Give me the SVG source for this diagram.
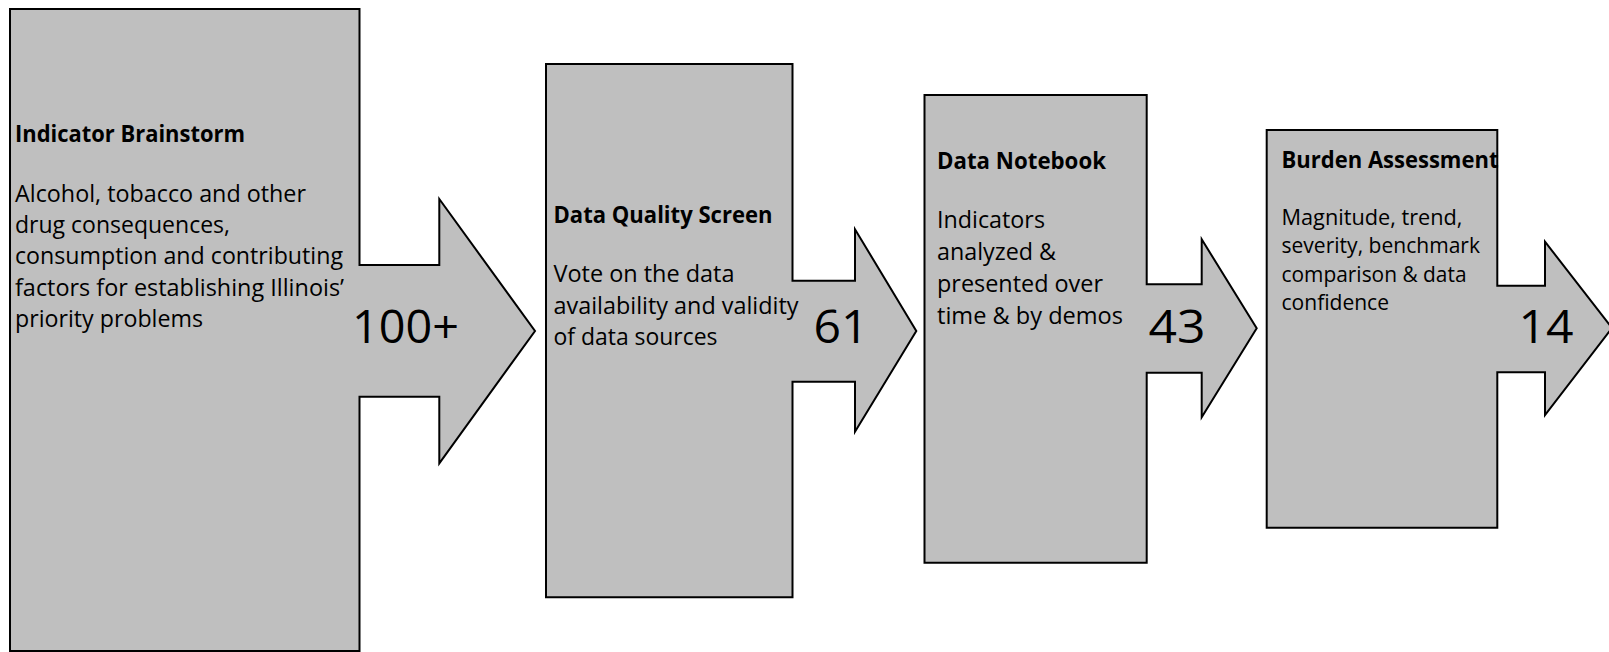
<svg xmlns="http://www.w3.org/2000/svg" width="1609" height="652" viewBox="0 0 1609 652">
  <style>
    .shape { fill: #bfbfbf; stroke: #000; stroke-width: 2; stroke-linejoin: miter; }
    text { font-family: "Open Sans", "Liberation Sans", sans-serif; fill: #000; }
    .title { font-weight: bold; font-size: 23px; }
    .body { font-size: 23.5px; }
    .small { font-size: 21px; }
    .num { font-size: 46px; }
  </style>
  <rect x="0" y="0" width="1609" height="652" fill="#fff"/>

  <g id="node-indicator-brainstorm">
    <path class="shape" d="M10,9 H359.5 V265 H439.3 V199 L535,331 L439.3,463.3 V396.7 H359.5 V651 H10 Z"/>
    <text class="title" x="15" y="142.3" textLength="230" lengthAdjust="spacingAndGlyphs">Indicator Brainstorm</text>
    <text class="body" x="15" y="201.7" textLength="291" lengthAdjust="spacingAndGlyphs">Alcohol, tobacco and other</text>
    <text class="body" x="15" y="233" textLength="215" lengthAdjust="spacingAndGlyphs">drug consequences,</text>
    <text class="body" x="15" y="264.3" textLength="328" lengthAdjust="spacingAndGlyphs">consumption and contributing</text>
    <text class="body" x="15" y="295.6" textLength="329" lengthAdjust="spacingAndGlyphs">factors for establishing Illinois’</text>
    <text class="body" x="15" y="327" textLength="188" lengthAdjust="spacingAndGlyphs">priority problems</text>
    <text class="num" x="352" y="343.3" textLength="107" lengthAdjust="spacingAndGlyphs">100+</text>
  </g>

  <g id="node-data-quality-screen">
    <path class="shape" d="M546,64 H792.5 V280.7 H855 V229.3 L916.3,331 L855,431.7 V381.7 H792.5 V597.3 H546 Z"/>
    <text class="title" x="553.5" y="223.3" textLength="219" lengthAdjust="spacingAndGlyphs">Data Quality Screen</text>
    <text class="body" x="553.5" y="282" textLength="181" lengthAdjust="spacingAndGlyphs">Vote on the data</text>
    <text class="body" x="553.5" y="313.5" textLength="245" lengthAdjust="spacingAndGlyphs">availability and validity</text>
    <text class="body" x="553.5" y="345" textLength="164" lengthAdjust="spacingAndGlyphs">of data sources</text>
    <text class="num" x="813.5" y="342.7" textLength="55" lengthAdjust="spacingAndGlyphs">61</text>
  </g>

  <g id="node-data-notebook">
    <path class="shape" d="M924.5,95 H1146.7 V284.3 H1201.7 V239.3 L1256.7,328.3 L1201.7,417.3 V372.7 H1146.7 V562.7 H924.5 Z"/>
    <text class="title" x="937" y="169.3" textLength="169" lengthAdjust="spacingAndGlyphs">Data Notebook</text>
    <text class="body" x="937" y="227.7" textLength="108" lengthAdjust="spacingAndGlyphs">Indicators</text>
    <text class="body" x="937" y="260" textLength="119" lengthAdjust="spacingAndGlyphs">analyzed &amp;</text>
    <text class="body" x="937" y="291.8" textLength="166" lengthAdjust="spacingAndGlyphs">presented over</text>
    <text class="body" x="937" y="324" textLength="186" lengthAdjust="spacingAndGlyphs">time &amp; by demos</text>
    <text class="num" x="1148.5" y="343.3" textLength="57" lengthAdjust="spacingAndGlyphs">43</text>
  </g>

  <g id="node-burden-assessment">
    <path class="shape" d="M1266.7,130 H1497.3 V285.7 H1545 V241.7 L1612,328 L1545,415 V372.3 H1497.3 V527.7 H1266.7 Z"/>
    <text class="title" x="1281.5" y="168.3" textLength="217" lengthAdjust="spacingAndGlyphs">Burden Assessment</text>
    <text class="small" x="1281.5" y="225" textLength="181" lengthAdjust="spacingAndGlyphs">Magnitude, trend,</text>
    <text class="small" x="1281.5" y="253" textLength="198.5" lengthAdjust="spacingAndGlyphs">severity, benchmark</text>
    <text class="small" x="1281.5" y="281.5" textLength="185" lengthAdjust="spacingAndGlyphs">comparison &amp; data</text>
    <text class="small" x="1281.5" y="310" textLength="107.5" lengthAdjust="spacingAndGlyphs">confidence</text>
    <text class="num" x="1518.5" y="343.3" textLength="55" lengthAdjust="spacingAndGlyphs">14</text>
  </g>
</svg>
